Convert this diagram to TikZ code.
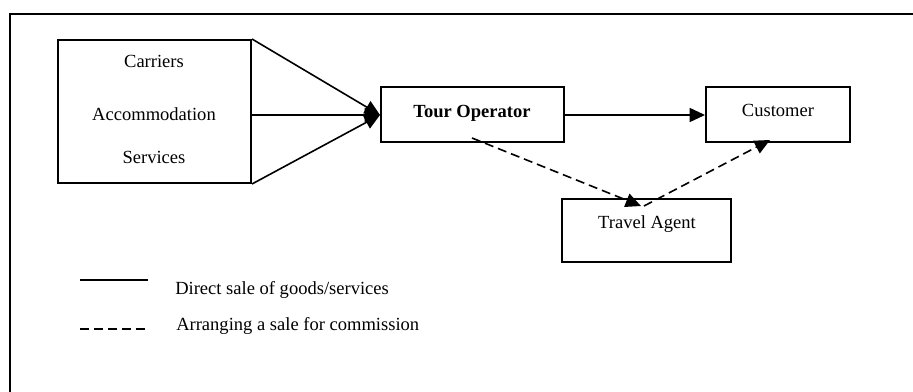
\documentclass[tikz,border=0pt]{standalone}
\usepackage{fontspec}
\setmainfont{Liberation Serif}
\usetikzlibrary{arrows.meta}
\begin{document}
\begin{tikzpicture}[x=0.75pt,y=-0.75pt,
  box/.style={draw,line width=1.5pt,rectangle,inner sep=0pt},
  lbl/.style={inner sep=0pt,anchor=base,font=\fontsize{13.9pt}{16pt}\selectfont},
  leg/.style={inner sep=0pt,anchor=base west,font=\fontsize{13.9pt}{16pt}\selectfont},
  conn/.style={line width=1.2pt,-{Triangle[length=11.5pt,width=10.5pt]}},
  dashconn/.style={line width=1.2pt,dash pattern=on 6.75pt off 3.75pt,-{Triangle[length=11.5pt,width=10.5pt]}},
  frame/.style={line width=1.5pt}]
\useasboundingbox (0,0) rectangle (913,392);
\draw[frame] (10,392) -- (10,14) -- (913,14);
% boxes
\node[box,minimum width=144.75pt,minimum height=107.25pt] (L) at (154.5,111.5) {};
\node[box,minimum width=137.25pt,minimum height=41.25pt] (TO) at (472.5,115) {};
\node[box,minimum width=108pt,minimum height=41.25pt] (C) at (778,115) {};
\node[box,minimum width=126.75pt,minimum height=47.25pt] (TA) at (646.5,230.5) {};
% texts
\node[lbl] (t1) at (154,68) {Carriers};
\node[lbl] (t2) at (154,121) {Accommodation};
\node[lbl] (t3) at (154,164) {Services};
\node[lbl,font=\fontsize{13.9pt}{16pt}\selectfont\bfseries] (t4) at (472,118) {Tour Operator};
\node[lbl] (t5) at (778,117) {Customer};
\node[lbl] (t6) at (647,228) {Travel Agent};
% solid connectors
\draw[conn] (L.north east) -- (TO.west);
\draw[conn] (L.east |- TO.west) -- (TO.west);
\draw[conn] (L.south east) -- (TO.west);
\draw[conn] (TO.east) -- (C.west);
% dashed connectors
\coordinate (d1) at (472,138);
\coordinate (d2) at (641,206);
\coordinate (d3) at (644,206);
\coordinate (d4) at (770,140);
\draw[dashconn] (d1) -- (d2);
\draw[dashconn] (d3) -- (d4);
% legend
\coordinate (s1) at (80,280);
\coordinate (s2) at (148,280);
\coordinate (e1) at (80,329);
\coordinate (e2) at (145,329);
\draw[line width=1.5pt] (s1) -- (s2);
\draw[line width=1.2pt,dash pattern=on 6.75pt off 3.75pt] (e1) -- (e2);
\node[leg] (g1) at (175,294) {Direct sale of goods/services};
\node[leg] (g2) at (176,330) {Arranging a sale for commission};
\end{tikzpicture}
\end{document}
